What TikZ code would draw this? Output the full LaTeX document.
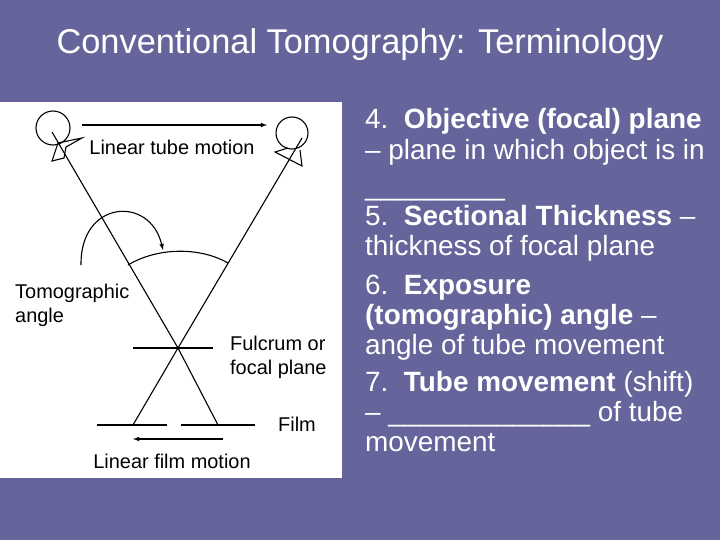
\documentclass[tikz,border=0pt]{standalone}
\usepackage{fontspec}
\setmainfont{Liberation Sans}
\begin{document}
\begin{tikzpicture}[x=1bp,y=-1bp,
  ln/.style={line width=1.1bp},
  lab/.style={font=\fontsize{20}{24}\selectfont,inner sep=0},
  rt/.style={font=\fontsize{28}{32}\selectfont,text=white,anchor=base west,inner sep=0},
  arr/.style={ln,-latex}]
\definecolor{bg}{RGB}{101,101,155}
\fill[bg] (0,0) rectangle (720,540);
\useasboundingbox (0,0) rectangle (720,540);
\fill[white] (0,102) rectangle (342,478);
\node[font=\fontsize{34.5}{40}\selectfont,text=white] (title) at (360,45) {Conventional Tomography: Terminology};
% tubes
\draw[ln] (53,128) circle (17);
\draw[ln] (292,133) circle (16);
\draw[ln] (58,143) -- (82,138) -- (66,147) -- (64,158) -- (52,161) -- cycle;
\draw[ln] (288,148) -- (275,152) -- (302,166) -- (300,150);
\coordinate (L0) at (52,132);
\coordinate (R0) at (302,138);
\coordinate (X) at (178,348);
\coordinate (L1) at (218,425);
\coordinate (R1) at (133,425);
\draw[ln] (L0) -- (X) -- (L1);
\draw[ln] (R0) -- (X) -- (R1);
\coordinate (f1) at (133,348); \coordinate (f2) at (213,348);
\draw[ln] (f1) -- (f2);
\coordinate (m1) at (97,425); \coordinate (m2) at (167,425);
\coordinate (m3) at (181,425); \coordinate (m4) at (255,425);
\draw[ln] (m1) -- (m2); \draw[ln] (m3) -- (m4);
% angle arc
\coordinate (a1) at (128,265); \coordinate (a2) at (228,263);
\draw[ln] (a1) .. controls (158,247) and (200,247) .. (a2);
\coordinate (c1) at (81,265); \coordinate (c2) at (163,250);
\draw[arr] (c1) .. controls (80,200) and (150,195) .. (c2);
% motion arrows
\coordinate (t1) at (82,125); \coordinate (t2) at (267,125);
\draw[arr] (t1) -- (t2);
\coordinate (g1) at (223,439); \coordinate (g2) at (133,439);
\draw[arr] (g1) -- (g2);
% labels
\node[lab] (ltm) at (172,147) {Linear tube motion};
\node[lab,align=left,anchor=west] (ta) at (15,305) {Tomographic\\angle};
\node[lab,align=left,anchor=west] (fp) at (230,357) {Fulcrum or\\focal plane};
\node[lab,anchor=west] (film) at (278,424) {Film};
\node[lab] (lfm) at (172,461) {Linear film motion};
% right text
\node[rt] (r1) at (365,129) {4.\ \ \textbf{Objective (focal) plane}};
\node[rt] (r2) at (365,160) {– plane in which object is in};
\node[rt] (r3) at (365,196) {\_\_\_\_\_\_\_\_\_};
\node[rt] (r4) at (365,226) {5.\ \ \textbf{Sectional Thickness} –};
\node[rt] (r5) at (365,256) {thickness of focal plane};
\node[rt] (r6) at (365,294) {6.\ \ \textbf{Exposure}};
\node[rt] (r7) at (365,324) {\textbf{(tomographic) angle} –};
\node[rt] (r8) at (365,354) {angle of tube movement};
\node[rt] (r9) at (365,391) {7.\ \ \textbf{Tube movement} (shift)};
\node[rt] (r10) at (365,421) {– \_\_\_\_\_\_\_\_\_\_\_\_\_ of tube};
\node[rt] (r11) at (365,451) {movement};
\end{tikzpicture}
\end{document}
